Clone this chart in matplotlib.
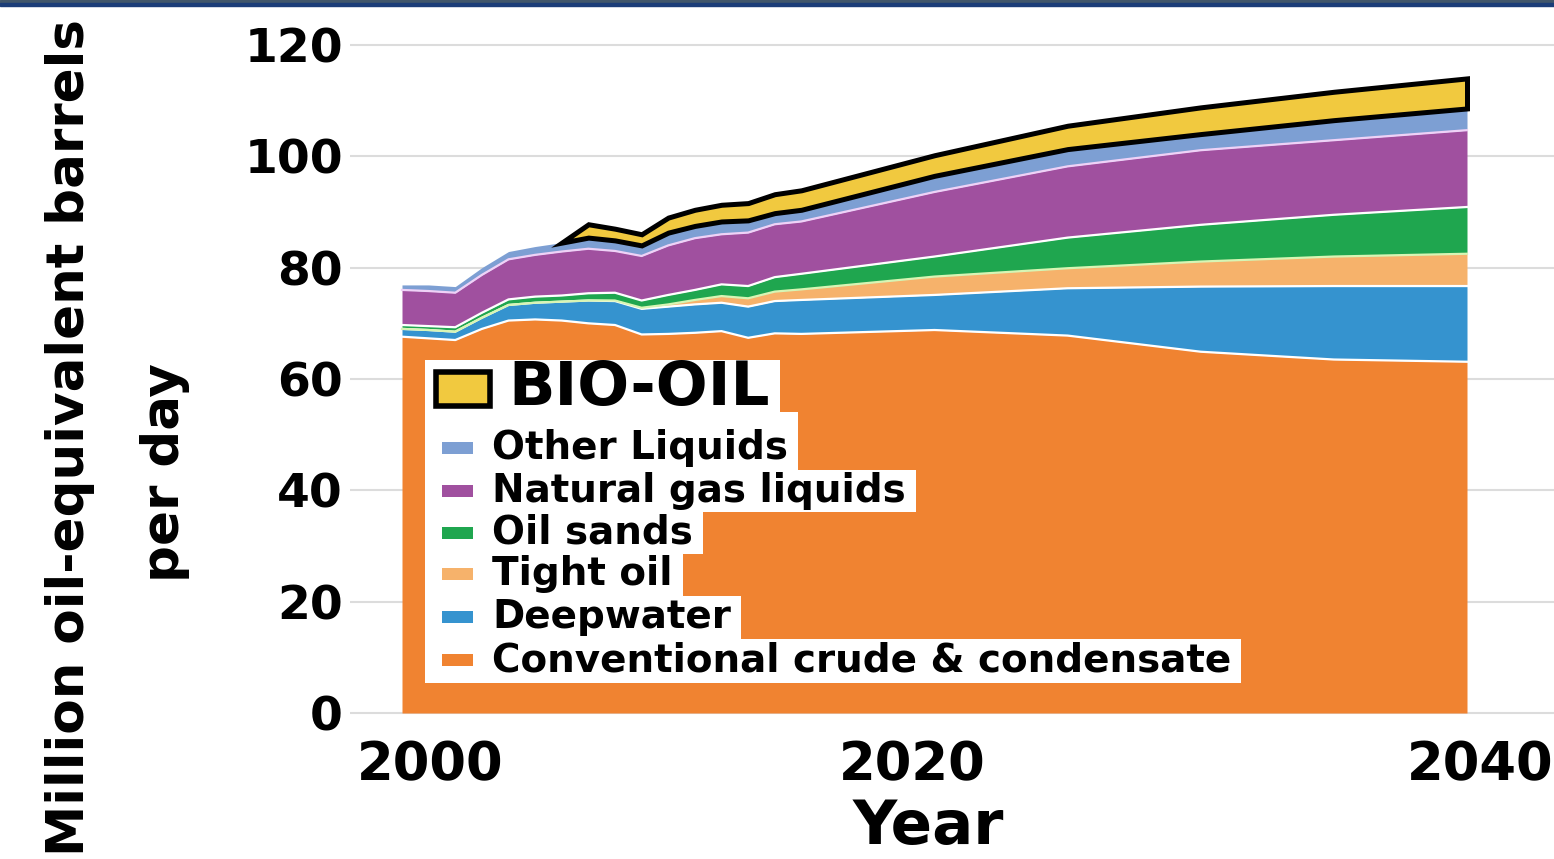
import numpy as np
import matplotlib
matplotlib.use("Agg")
import matplotlib.pyplot as plt
from matplotlib.patches import Rectangle

W, H = 1554, 859

# Данные: млн баррелей н.э. в сутки, по годам (слои снизу вверх)
years = [2000, 2001, 2002, 2003, 2004, 2005, 2006, 2007, 2008, 2009, 2010,
         2011, 2012, 2013, 2014, 2015, 2020, 2025, 2030, 2035, 2040]
conventional = [67.6, 67.3, 67.0, 69.0, 70.5, 70.7, 70.5, 70.0, 69.7, 68.0, 68.1,
                68.3, 68.6, 67.4, 68.2, 68.1, 68.8, 67.8, 64.9, 63.5, 63.1]
deepwater = [1.4, 1.5, 1.5, 2.0, 2.8, 3.0, 3.4, 4.1, 4.3, 4.6, 4.9,
             5.1, 5.1, 5.6, 5.8, 6.1, 6.3, 8.5, 11.7, 13.2, 13.6]
tight_oil = [0.0, 0.0, 0.0, 0.0, 0.0, 0.0, 0.0, 0.0, 0.1, 0.2, 0.4,
             0.8, 1.2, 1.5, 1.7, 1.9, 3.3, 3.6, 4.5, 5.3, 5.8]
oil_sands = [0.7, 0.7, 0.8, 0.9, 1.0, 1.1, 1.1, 1.3, 1.4, 1.3, 1.7,
             1.8, 2.1, 2.2, 2.6, 2.8, 3.6, 5.5, 6.6, 7.5, 8.4]
ngl = [6.3, 6.3, 6.2, 6.8, 7.2, 7.5, 7.9, 8.0, 7.5, 8.0, 8.9,
       9.3, 9.0, 9.6, 9.5, 9.4, 11.6, 12.8, 13.4, 13.4, 13.8]
other_liquids = [0.9, 1.1, 1.1, 1.3, 1.4, 1.5, 1.6, 2.0, 1.9, 1.9, 2.3,
                 2.2, 2.3, 2.2, 2.0, 2.1, 2.9, 3.1, 2.9, 3.6, 3.9]
bio_oil = [np.nan, np.nan, np.nan, np.nan, np.nan, np.nan, 0.0, 2.4, 2.1, 2.0, 2.7,
           2.9, 3.0, 3.1, 3.4, 3.5, 3.7, 4.2, 4.8, 5.1, 5.4]

# подписи легенды сверху вниз
legend_labels = ["Other Liquids", "Natural gas liquids", "Oil sands",
                 "Tight oil", "Deepwater", "Conventional crude & condensate"]

layer_colors = ['#f08331', '#3593cf', '#f6b26b', '#1fa64f', '#a0509f', '#7d9fd3']
line_colors = ['#ffffff', '#ffffff', '#d8f5b4', '#ffffff', '#efd2f7']
bio_color = '#f1c93f'

x = np.array(years, dtype=float)
layers = np.array([conventional, deepwater, tight_oil, oil_sands, ngl, other_liquids])
tops = np.cumsum(layers, axis=0)
bottoms = tops - layers

fig = plt.figure(figsize=(W / 100, H / 100), dpi=100)
fig.patch.set_facecolor('white')
ax = fig.add_axes([350 / W, 1 - 716 / H, 1 - 350 / W, (716 - 8) / H])

for i in range(len(layers)):
    ax.fill_between(x, bottoms[i], tops[i], color=layer_colors[i], lw=0, zorder=2)
for i in range(len(line_colors)):
    ax.plot(x, tops[i], color=line_colors[i], lw=1.6, zorder=3)

bio = np.array(bio_oil)
ok = ~np.isnan(bio)
ax.fill_between(x[ok], tops[-1][ok], tops[-1][ok] + bio[ok], facecolor=bio_color,
                edgecolor='black', lw=3.6, joinstyle='miter', zorder=4)

# масштаб оси X: 2000 -> 402 px, 2040 -> 1467 px
ppy = (1467 - 402) / 40
ax.set_xlim(2000 - (402 - 350) / ppy, 2040 + (1554 - 1467) / ppy)
ppu = (713 - 45) / 120
ax.set_ylim(-3 / ppu, 120 + (45 - 8) / ppu)

ax.set_yticks(range(0, 121, 20))
tick_px = [430, 912, 1480]
ax.set_xticks([2000 + (p - 402) / ppy for p in tick_px])
ax.set_xticklabels(['2000', '2020', '2040'])
ax.grid(axis='y', color='#dcdcdc', lw=1.5)
ax.set_axisbelow(True)
for s in ax.spines.values():
    s.set_visible(False)
ax.tick_params(axis='y', length=0, pad=5, labelsize=34)
ax.tick_params(axis='x', length=0, pad=17, labelsize=38)
for lab in ax.get_xticklabels() + ax.get_yticklabels():
    lab.set_fontweight('bold')

# верхняя рамка
fig.add_artist(Rectangle((0, 1 - 3 / H), 1, 3 / H, color='#41566a',
                         transform=fig.transFigure, zorder=5))
fig.add_artist(Rectangle((0, 1 - 6 / H), 1, 3 / H, color='#1b3d78',
                         transform=fig.transFigure, zorder=5))

narrow = ['Liberation Sans Narrow', 'DejaVu Sans']
ylab1 = fig.text(70 / W, 1 - 437 / H, "Million oil-equivalent barrels", rotation=90,
                 ha='center', va='center', fontsize=54, fontweight='bold', family=narrow)
ylab2 = fig.text(165 / W, 1 - 472 / H, "per day", rotation=90,
                 ha='center', va='center', fontsize=54, fontweight='bold', family=narrow)
fig.text(928 / W, 1 - 857 / H, "Year", ha='center', va='bottom',
         fontsize=44, fontweight='bold')

# легенда
bio_text = fig.text(508 / W, 1 - 389 / H, "BIO-OIL", ha='left', va='center',
                    fontsize=44, fontweight='bold', zorder=4)
row_y = [448, 491, 533, 574, 617, 660]
row_texts = []
for lab, yc in zip(legend_labels, row_y):
    row_texts.append(fig.text(492 / W, 1 - yc / H, lab, ha='left', va='center',
                              fontsize=28, fontweight='bold', zorder=4))

fig.canvas.draw()
r = fig.canvas.get_renderer()

# подогнать длину подписи оси Y
bb = ylab1.get_window_extent(r)
k = 835 / bb.height
ylab1.set_fontsize(54 * k)
ylab2.set_fontsize(54 * k)

def white_box(x0, y_top, x1, y_bot):
    fig.add_artist(Rectangle((x0 / W, 1 - y_bot / H), (x1 - x0) / W, (y_bot - y_top) / H,
                             facecolor='white', edgecolor='none',
                             transform=fig.transFigure, zorder=2))

bb = bio_text.get_window_extent(r)
white_box(425, 360, bb.x1 + 10, 412)
fig.add_artist(Rectangle((436 / W, 1 - 406 / H), 54 / W, 34 / H, facecolor=bio_color,
                         edgecolor='black', lw=4, joinstyle='miter',
                         transform=fig.transFigure, zorder=3))

edges = [412] + [(a + b) / 2 for a, b in zip(row_y[:-1], row_y[1:])] + [row_y[-1] + 23]
legend_colors = layer_colors[::-1]
for i, t in enumerate(row_texts):
    bb = t.get_window_extent(r)
    white_box(425, edges[i], bb.x1 + 10, edges[i + 1])
    fig.add_artist(Rectangle((442 / W, 1 - (row_y[i] + 6) / H), 31 / W, 12 / H,
                             facecolor=legend_colors[i], edgecolor='none',
                             transform=fig.transFigure, zorder=3))

fig.savefig("out.png", dpi=100)
